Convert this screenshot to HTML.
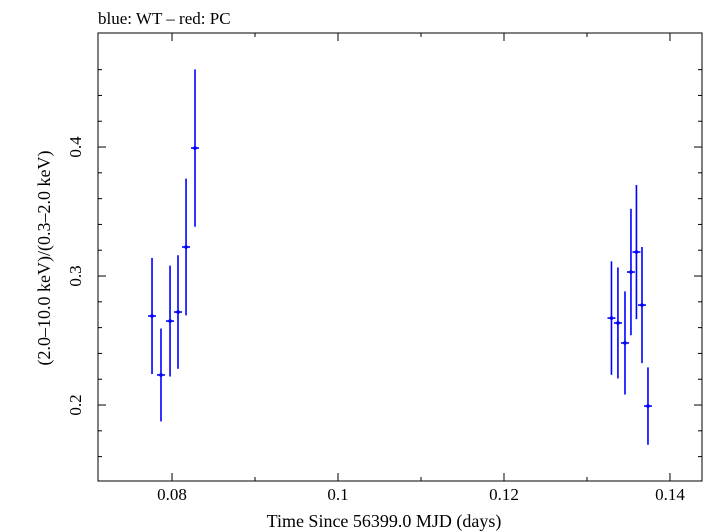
<!DOCTYPE html>
<html><head><meta charset="utf-8"><style>
html,body{margin:0;padding:0;background:#fff;}
svg{display:block;font-family:"Liberation Serif",serif;}
</style></head><body>
<svg id="chart" width="705" height="532" viewBox="0 0 705 532">
<text x="98" y="24" font-size="17" fill="#000">blue: WT – red: PC</text>
<g id="axes"></g>
<g id="marks"></g>
<text x="384" y="527" font-size="18" text-anchor="middle">Time Since 56399.0 MJD (days)</text>
<text transform="translate(50,258) rotate(-90)" font-size="18" text-anchor="middle">(2.0–10.0 keV)/(0.3–2.0 keV)</text>
</svg>
<script>
const times = [0.07759,0.07867,0.07976,0.08072,0.08169,0.08277,0.13295,0.13373,0.13458,0.13530,0.13596,0.13663,0.13735];
const ratios = [0.269,0.2233,0.2651,0.2721,0.3225,0.3992,0.2674,0.2636,0.2481,0.3031,0.3186,0.2775,0.1992];
const errors = [0.045,0.036,0.043,0.044,0.053,0.061,0.044,0.043,0.040,0.049,0.052,0.045,0.030];
const xTicks = [0.08,0.1,0.12,0.14];
const xTickLabels = ["0.08","0.1","0.12","0.14"];
const yTicks = [0.2,0.3,0.4];
const yTickLabels = ["0.2","0.3","0.4"];

const L=98,R=702,T=33,B=481;
const xMin=0.07108,xMax=0.14386,yMin=0.1411,yMax=0.4884;
const sx=v=>L+(v-xMin)/(xMax-xMin)*(R-L);
const sy=v=>B-(v-yMin)/(yMax-yMin)*(B-T);
const NS="http://www.w3.org/2000/svg";
function mk(tag,attrs,parent){const e=document.createElementNS(NS,tag);for(const k in attrs)e.setAttribute(k,attrs[k]);parent.appendChild(e);return e;}
const axes=document.getElementById('axes'),marks=document.getElementById('marks');
const frame=mk('rect',{x:L,y:T,width:R-L,height:B-T,fill:'none',stroke:'#000','stroke-width':1},axes);


for(let v=0.08;v<=0.1435;v+=0.01){const x=sx(v);const major=Math.abs(Math.round(v*50)-v*50)<1e-6;const len=major?8:4;
 const t1=mk('line',{x1:x,x2:x,y1:B,y2:B-len,stroke:'#000'},axes);
 
 
 const t2=mk('line',{x1:x,x2:x,y1:T,y2:T+len,stroke:'#000'},axes);
 
 }
for(let v=0.16;v<=0.48;v+=0.02){const y=sy(v);const major=Math.abs(Math.round(v*10)-v*10)<1e-6;const len=major?8:4;
 const t1=mk('line',{x1:L,x2:L+len,y1:y,y2:y,stroke:'#000'},axes);
 
 
 const t2=mk('line',{x1:R,x2:R-len,y1:y,y2:y,stroke:'#000'},axes);
 
 }
xTicks.forEach((v,i)=>{const t=mk('text',{x:sx(v),y:B+19,'font-size':17,'text-anchor':'middle'},axes);t.textContent=xTickLabels[i];
 
 });
yTicks.forEach((v,i)=>{const t=mk('text',{transform:`translate(${L-17},${sy(v)}) rotate(-90)`,'font-size':17,'text-anchor':'middle'},axes);t.textContent=yTickLabels[i];
 
 });
times.forEach((t,i)=>{const x=sx(t),y=sy(ratios[i]);
 const g=mk('g',{stroke:'#0000ff','stroke-width':1.6},marks);
 
 
 mk('line',{x1:x,x2:x,y1:sy(ratios[i]+errors[i]),y2:sy(ratios[i]-errors[i])},g);
 mk('line',{x1:x-4,x2:x+4,y1:y,y2:y},g);
 mk('circle',{cx:x,cy:y,r:1.8,fill:'#0000ff',stroke:'none'},g);});
</script>
</body></html>
